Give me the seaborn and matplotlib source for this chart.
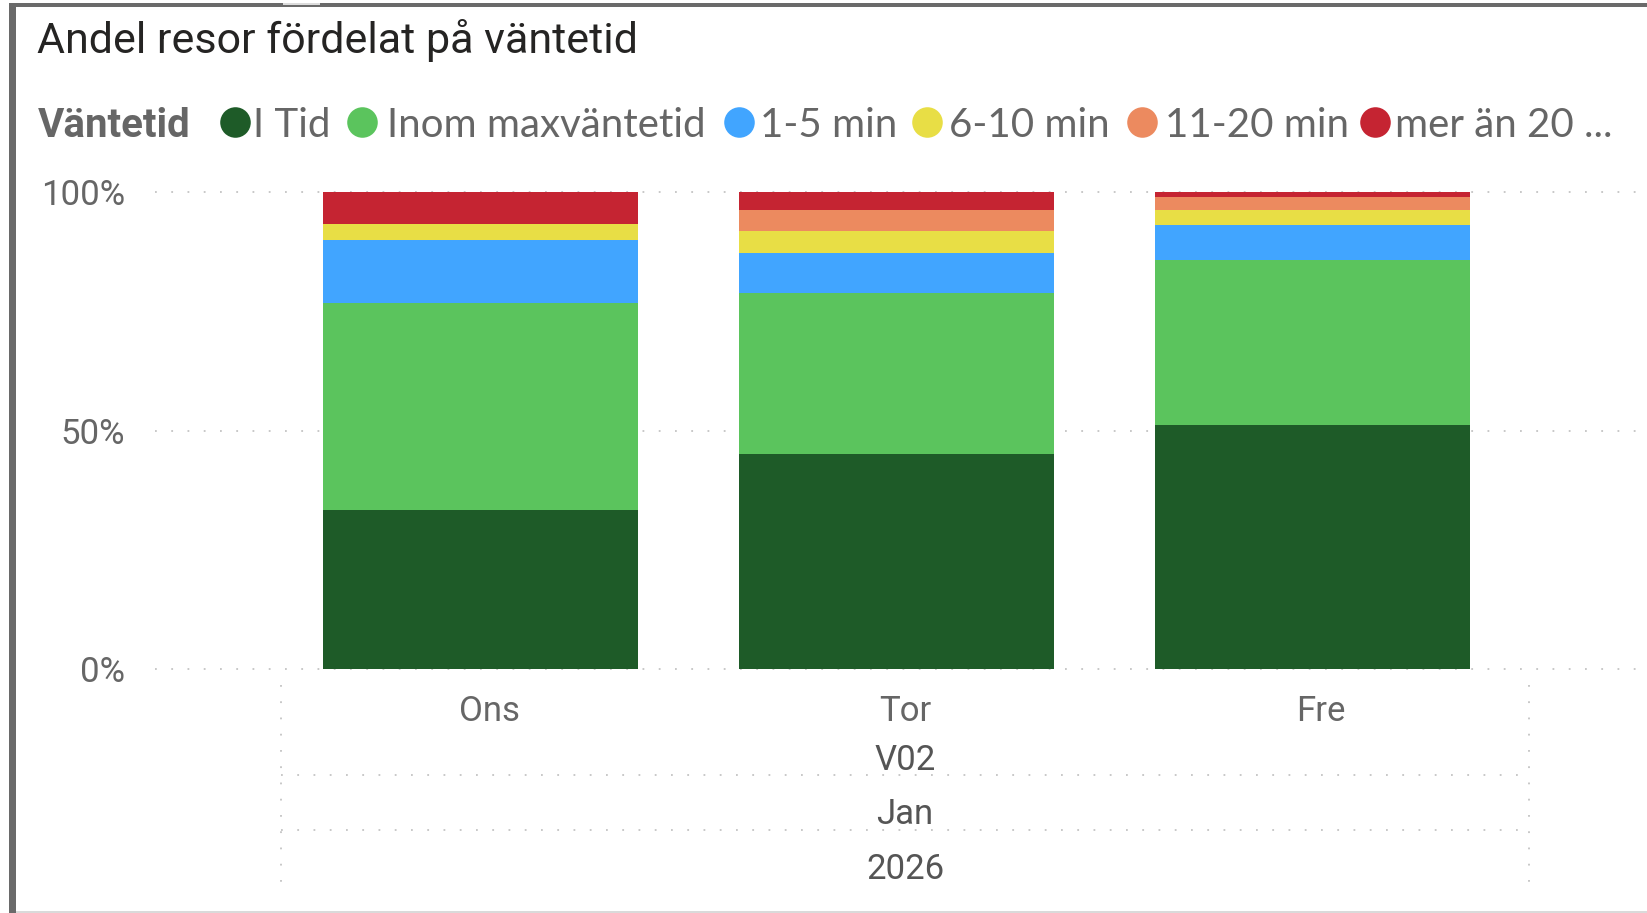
import numpy as np
import pandas as pd
import matplotlib
matplotlib.use("Agg")
import matplotlib.pyplot as plt
from matplotlib.lines import Line2D
from matplotlib.patches import Rectangle
from matplotlib.transforms import blended_transform_factory
import seaborn as sns

# ---------------- data ----------------
days = ["Ons", "Tor", "Fre"]
series = ["I Tid", "Inom maxväntetid", "1-5 min", "6-10 min", "11-20 min", "mer än 20 ..."]
i_tid = [33.3, 45.2, 51.1]
inom_max = [43.4, 33.7, 34.7]
min_1_5 = [13.3, 8.3, 7.3]
min_6_10 = [3.3, 4.6, 3.1]
min_11_20 = [0.0, 4.5, 2.7]
over_20 = [6.7, 3.7, 1.1]
colors = ["#1E5B28", "#5BC45D", "#41A5FF", "#E8DE45", "#EC8A5F", "#C52432"]
ytick_vals = [0, 50, 100]
ytick_labels = ["0%", "50%", "100%"]
week_label = "V02"
month_label = "Jan"
year_label = "2026"
title = "Andel resor fördelat på väntetid"
legend_title = "Väntetid"

# ---------------- figure ----------------
W, H = 1647, 913
sns.set_theme(style="white")
plt.rcParams["font.family"] = ["Roboto", "DejaVu Sans"]

fig = plt.figure(figsize=(W / 100, H / 100), dpi=100)
fig.patch.set_facecolor("white")


def fx(px):
    return px / W


def fy(py):
    return 1 - py / H


# axes: 0% at y=669.3px, 100% at y=192px
ppu = (669.3 - 192.0) / 100.0
y_bot = 669.3 + 0.5 * ppu
y_top = 192.0 - 0.5 * ppu
ax = fig.add_axes([fx(155), fy(y_bot), fx(W - 155), (y_bot - y_top) / H])

values = [i_tid, inom_max, min_1_5, min_6_10, min_11_20, over_20]
bottom = np.zeros(len(days))
for name, vals, col in zip(series, values, colors):
    df = pd.DataFrame({"Dag": days, "Andel": vals})
    sns.barplot(data=df, x="Dag", y="Andel", order=days, bottom=bottom,
                color=col, saturation=1, width=0.757, errorbar=None,
                linewidth=0, ax=ax)
    bottom = bottom + np.array(vals)

ax.set_xlim(-0.783, 2.804)
ax.set_ylim(-0.5, 100.5)
ax.set_yticks(ytick_vals)
ax.set_yticklabels(ytick_labels)
# category labels sit centred in the hierarchy slots (slightly right of bars)
ax.set_xticks(np.arange(len(days)) + 0.02)
ax.set_xticklabels(days)
ax.set_xlabel("")
ax.set_ylabel("")
for s in ax.spines.values():
    s.set_visible(False)
ax.yaxis.grid(True, color="#c4c4c4", linestyle=(0, (1, 8)), linewidth=1.3)
ax.xaxis.grid(False)
ax.set_axisbelow(True)
ax.tick_params(axis="y", length=0, pad=21.5, labelsize=25, labelcolor="#666666")
ax.tick_params(axis="x", length=0, pad=17, labelsize=25, labelcolor="#666666")
ax.set_facecolor("none")

# hierarchy labels below categories
trans = blended_transform_factory(ax.transData, fig.transFigure)
left_edge, right_edge = -0.48, 2.52
mid = (left_edge + right_edge) / 2
hier_kw = dict(transform=trans, ha="center", va="center", fontsize=25,
               color="#555555", family=["Roboto", "DejaVu Sans"])
fig.text(mid, fy(760), week_label, **hier_kw)
fig.text(mid, fy(814), month_label, **hier_kw)
fig.text(mid, fy(869), year_label, **hier_kw)
dot_kw = dict(transform=trans, color="#c4c4c4", linestyle=(0, (1, 8)), linewidth=1.3)
for yy in (775, 830):
    fig.add_artist(Line2D([left_edge, right_edge], [fy(yy), fy(yy)], **dot_kw))
for xx in (left_edge, right_edge):
    fig.add_artist(Line2D([xx, xx], [fy(685), fy(885)], **dot_kw))

# title
fig.text(fx(37), fy(53), title, ha="left", va="baseline", fontsize=31,
         color="#252423", family=["Roboto", "DejaVu Sans"])

# legend
fig.text(fx(38), fy(137), legend_title, ha="left", va="baseline", fontsize=29,
         fontweight="bold", color="#666666", family=["Roboto", "DejaVu Sans"])
circle_x = [235, 362, 739, 927, 1142, 1375]
text_x = [253, 387, 760, 949, 1165, 1395]
for name, col, cx, tx in zip(series, colors, circle_x, text_x):
    fig.add_artist(Line2D([fx(cx)], [fy(122)], marker="o", markersize=22,
                          markerfacecolor=col, markeredgewidth=0,
                          linestyle="none", transform=fig.transFigure))
    fig.text(fx(tx), fy(137), name, ha="left", va="baseline", fontsize=29,
             color="#666666", family=["Lato", "DejaVu Sans"])

# frame (screenshot border)
fig.add_artist(Rectangle((fx(9), 0), 7 / W, fy(3), transform=fig.transFigure,
                         color="#6a6a6a", linewidth=0))
fig.add_artist(Rectangle((fx(9), fy(7.5)), 1 - fx(9), 4 / H, transform=fig.transFigure,
                         color="#6a6a6a", linewidth=0))
fig.add_artist(Rectangle((fx(283), fy(5.5)), 37 / W, 2 / H, transform=fig.transFigure,
                         color="#dcdcdc", linewidth=0))
fig.add_artist(Rectangle((fx(16), 0), 1 - fx(16), 2.5 / H, transform=fig.transFigure,
                         color="#dadada", linewidth=0))

fig.savefig("out.png", dpi=100, facecolor="white")
